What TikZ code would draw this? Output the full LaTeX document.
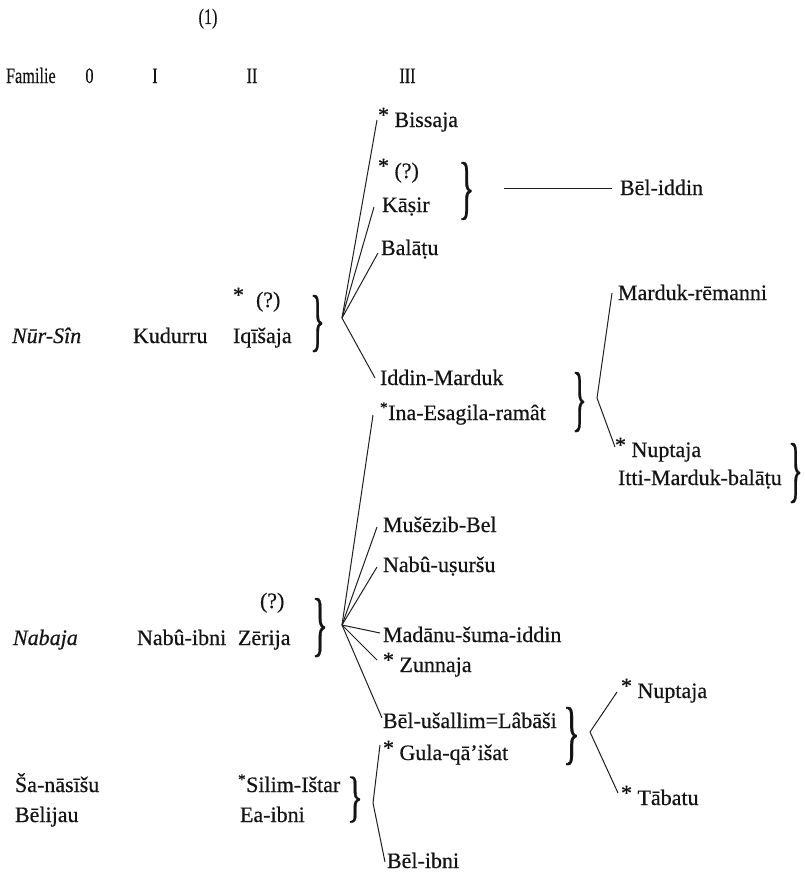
\documentclass[tikz,border=0pt]{standalone}
\usepackage{fontspec}
\setmainfont{Liberation Serif}[FakeBold=0.5]
\usepackage{graphicx}
\newcommand{\stz}{\raisebox{0.22em}{*}}
\newcommand{\sstz}{\textsuperscript{*}}
\newcommand{\brc}[2]{\resizebox*{#1}{#2}{\}}}
\newcommand{\hd}[1]{\scalebox{0.74}[1]{#1}}
\begin{document}
\begin{tikzpicture}[x=1pt,y=-1pt,
  every node/.style={inner sep=0pt,outer sep=0pt,text=black!92,font=\fontsize{22}{26}\selectfont},
  lbl/.style={anchor=base west},
  hdr/.style={anchor=base},
  bracenode/.style={anchor=center},
  conn/.style={line width=1pt,draw=black!88}]
\useasboundingbox (0,0) rectangle (805,875);

% header
\node[hdr] (num) at (208,24) {\hd{(1)}};
\node[lbl] (familie) at (6,83) {\hd{Familie}};
\node[hdr] (g0) at (89.5,83) {\hd{0}};
\node[hdr] (g1) at (155,83) {\hd{I}};
\node[hdr] (g2) at (252,83) {\hd{II}};
\node[hdr] (g3) at (407.5,83) {\hd{III}};

% Nur-Sin family
\node[lbl] (nursin) at (12,343) {\textit{Nūr-Sîn}};
\node[lbl] (kudurru) at (133,343) {Kudurru};
\node[lbl] (q1) at (233,307) {\stz\hspace{12pt}(?)};
\node[lbl] (iqisaja) at (233,343) {Iqīšaja};
\node[bracenode] (b1) at (317.5,323.5) {\brc{15pt}{57pt}};
\coordinate (f1) at (342,318);

\node[lbl] (bissaja) at (378,127) {\stz\ Bissaja};
\node[lbl] (q2) at (378,178) {\stz\ (?)};
\node[lbl] (kasir) at (382,212) {Kāṣir};
\node[lbl] (balatu) at (381,255) {Balāṭu};
\node[bracenode] (b2) at (466.5,191) {\brc{16pt}{58pt}};
\node[lbl] (beliddin) at (620,195) {Bēl-iddin};
\coordinate (h1) at (504,188);

\node[lbl] (iddin) at (380,385) {Iddin-Marduk};
\node[lbl] (ina) at (380,420) {\sstz Ina-Esagila-ramât};
\node[bracenode] (b3) at (579.5,402) {\brc{15pt}{60pt}};
\coordinate (f2) at (597,398);
\node[lbl] (remanni) at (618,300) {Marduk-rēmanni};
\node[lbl] (nuptaja1) at (615,457) {\stz\ Nuptaja};
\node[lbl] (itti) at (618,485) {Itti-Marduk-balāṭu};
\node[bracenode] (b4) at (795.5,473) {\brc{15pt}{60pt}};

% Nabaja family
\node[lbl] (nabaja) at (13,645) {\textit{Nabaja}};
\node[lbl] (nabuibni) at (137,645) {Nabû-ibni};
\node[lbl] (q3) at (260,608) {(?)};
\node[lbl] (zerija) at (238,645) {Zērija};
\node[bracenode] (b5) at (320,627.5) {\brc{16pt}{59pt}};
\coordinate (f3) at (342,625);

\node[lbl] (musezib) at (383,532) {Mušēzib-Bel};
\node[lbl] (nabuusursu) at (383,572) {Nabû-uṣuršu};
\node[lbl] (madanu) at (383,642) {Madānu-šuma-iddin};
\node[lbl] (zunnaja) at (383,672) {\stz\ Zunnaja};
\node[lbl] (belusallim) at (383,728) {Bēl-ušallim=Lâbāši};
\node[lbl] (gula) at (383,760) {\stz\ Gula-qā’išat};
\node[bracenode] (b6) at (571.5,736) {\brc{17pt}{58pt}};
\coordinate (f4) at (590,732);
\node[lbl] (nuptaja2) at (621,698) {\stz\ Nuptaja};
\node[lbl] (tabatu) at (621,805) {\stz\ Tābatu};

% Sa-nasisu / Belijau
\node[lbl] (sanasisu) at (15,792) {Ša-nāsīšu};
\node[lbl] (belijau) at (15,822) {Bēlijau};
\node[lbl] (silim) at (238,792) {\sstz Silim-Ištar};
\node[lbl] (eaibni) at (240,822) {Ea-ibni};
\node[bracenode] (b7) at (355,799.5) {\brc{16pt}{46pt}};
\coordinate (f5) at (373,803);
\node[lbl] (belibni) at (387,868) {Bēl-ibni};

% end points of connectors
\coordinate (e-bissaja) at (377,120);
\coordinate (e-kasir) at (374,207);
\coordinate (e-balatu) at (378,253);
\coordinate (e-iddin) at (375,378);
\coordinate (e-remanni) at (612,293);
\coordinate (e-nuptaja1) at (615,447);
\coordinate (e-ina) at (373,415);
\coordinate (e-musezib) at (377,527);
\coordinate (e-nabuusursu) at (377,567);
\coordinate (e-madanu) at (380,633);
\coordinate (e-zunnaja) at (377,660);
\coordinate (e-belusallim) at (382,718);
\coordinate (e-nuptaja2) at (617,692);
\coordinate (e-tabatu) at (618,793);
\coordinate (e-gula) at (380,745);
\coordinate (e-belibni) at (385,862);
\coordinate (e-beliddin) at (612,188);

% connectors
\draw[conn] (f1) -- (e-bissaja);
\draw[conn] (f1) -- (e-kasir);
\draw[conn] (f1) -- (e-balatu);
\draw[conn] (f1) -- (e-iddin);
\draw[conn] (h1) -- (e-beliddin);
\draw[conn] (f2) -- (e-remanni);
\draw[conn] (f2) -- (e-nuptaja1);
\draw[conn] (f3) -- (e-ina);
\draw[conn] (f3) -- (e-musezib);
\draw[conn] (f3) -- (e-nabuusursu);
\draw[conn] (f3) -- (e-madanu);
\draw[conn] (f3) -- (e-zunnaja);
\draw[conn] (f3) -- (e-belusallim);
\draw[conn] (f4) -- (e-nuptaja2);
\draw[conn] (f4) -- (e-tabatu);
\draw[conn] (f5) -- (e-gula);
\draw[conn] (f5) -- (e-belibni);
\end{tikzpicture}
\end{document}
